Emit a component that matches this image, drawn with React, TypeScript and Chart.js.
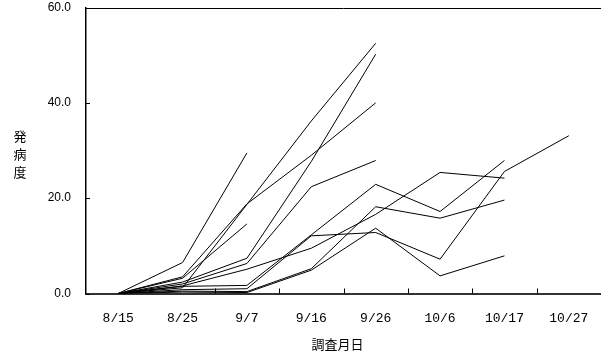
import React, { useEffect, useRef } from 'react';
import { Chart, registerables } from 'chart.js';

Chart.register(...registerables);

const categories = ['8/15', '8/25', '9/7', '9/16', '9/26', '10/6', '10/17', '10/27'];

const plot1 = [0, 6.5, 29.5, null, null, null, null, null];
const plot2 = [0, 3.2, 14.6, null, null, null, null, null];
const plot3 = [0, 1.2, 18.7, 36.2, 52.5, null, null, null];
const plot4 = [0, 3.5, 18.8, 29.0, 40.0, null, null, null];
const plot5 = [0, 2.4, 7.4, 27.7, 50.2, null, null, null];
const plot6 = [0, 2.0, 6.3, 22.4, 27.9, null, null, null];
const plot7 = [0, 1.5, 1.7, 12.3, 22.9, 17.2, 27.9, null];
const plot8 = [0, 1.6, 5.1, 9.5, 16.6, 25.4, 24.2, null];
const plot9 = [0, 0.5, 0.4, 5.2, 18.2, 15.8, 19.6, null];
const plot10 = [0, 0.3, 0.2, 4.9, 13.7, 3.7, 7.9, null];
const plot11 = [0, 0.8, 1.0, 12.1, 12.8, 7.2, 25.6, 33.1];

const yTickValues = [0, 20, 40, 60];
const xTitle = '調査月日';
const yTitleChars = ['発', '病', '度'];

export default function App() {
  const canvasRef = useRef<HTMLCanvasElement>(null);

  useEffect(() => {
    const canvas = canvasRef.current;
    if (!canvas) return;
    const series = [plot1, plot2, plot3, plot4, plot5, plot6, plot7, plot8, plot9, plot10, plot11];

    const decor = {
      id: 'decor',
      afterDraw(chart: any) {
        const { ctx, chartArea: a, scales } = chart;
        ctx.save();
        ctx.strokeStyle = '#000';
        ctx.lineWidth = 1;
        // top frame line
        ctx.beginPath();
        ctx.moveTo(a.left, Math.round(a.top) + 0.5);
        ctx.lineTo(a.right, Math.round(a.top) + 0.5);
        ctx.stroke();
        // inward y ticks
        yTickValues.forEach((v) => {
          const y = Math.round(scales.y.getPixelForValue(v)) + 0.5;
          ctx.beginPath();
          ctx.moveTo(a.left, y);
          ctx.lineTo(a.left + 4, y);
          ctx.stroke();
        });
        // inward x ticks at category boundaries
        const step = a.width / categories.length;
        for (let i = 1; i < categories.length; i++) {
          const x = Math.round(scales.x.getPixelForValue(i) - step / 2) + 0.5;
          ctx.beginPath();
          ctx.moveTo(x, a.bottom);
          ctx.lineTo(x, a.bottom - 5);
          ctx.stroke();
        }
        // titles
        ctx.fillStyle = '#000';
        ctx.textAlign = 'center';
        ctx.textBaseline = 'middle';
        ctx.font = '13px "Noto Sans CJK JP"';
        ctx.fillText(xTitle, (a.left + a.right) / 2 - 6, 344);
        const cy = (a.top + a.bottom) / 2 + 4;
        yTitleChars.forEach((c, i) => {
          ctx.fillText(c, 20, cy + (i - 1) * 18);
        });
        ctx.restore();
      },
    };

    const chart = new Chart(canvas, {
      type: 'line',
      data: {
        labels: categories,
        datasets: series.map((d, i) => ({
          label: 'S' + (i + 1),
          data: d,
          borderColor: '#000',
          borderWidth: 1,
          pointRadius: 0,
          fill: false,
          tension: 0,
          spanGaps: false,
        })),
      },
      options: {
        animation: false,
        responsive: false,
        devicePixelRatio: 1,
        layout: { padding: { top: 7.5, right: 0, bottom: 0, left: 0 } },
        plugins: {
          legend: { display: false },
          tooltip: { enabled: false },
          title: { display: false },
        },
        scales: {
          x: {
            type: 'category',
            offset: true,
            grid: { display: true, drawOnChartArea: false, drawTicks: false },
            border: { display: true, color: '#333', width: 2 },
            ticks: {
              color: '#000',
              padding: 17,
              maxRotation: 0,
              autoSkip: false,
              font: { family: '"Liberation Mono"', size: 13 },
            },
            afterFit: (scale: any) => {
              scale.height = 59.5;
              scale.paddingLeft = 0;
              scale.paddingRight = 0;
            },
          },
          y: {
            min: 0,
            max: 60,
            grid: { display: true, drawOnChartArea: false, drawTicks: false },
            border: { display: true, color: '#000', width: 1.5 },
            ticks: {
              stepSize: 20,
              color: '#000',
              padding: 15,
              font: { family: '"Liberation Sans"', size: 12 },
              callback: (v: any) => Number(v).toFixed(1),
            },
            afterFit: (scale: any) => {
              scale.width = 86;
              scale.paddingTop = 0;
              scale.paddingBottom = 0;
            },
          },
        },
      },
      plugins: [decor],
    });

    return () => chart.destroy();
  }, []);

  return (
    <div style={{ position: 'absolute', left: 0, top: 0, width: 601, height: 353, background: '#fff' }}>
      <canvas ref={canvasRef} width={601} height={353} style={{ width: 601, height: 353, display: 'block' }} />
    </div>
  );
}
